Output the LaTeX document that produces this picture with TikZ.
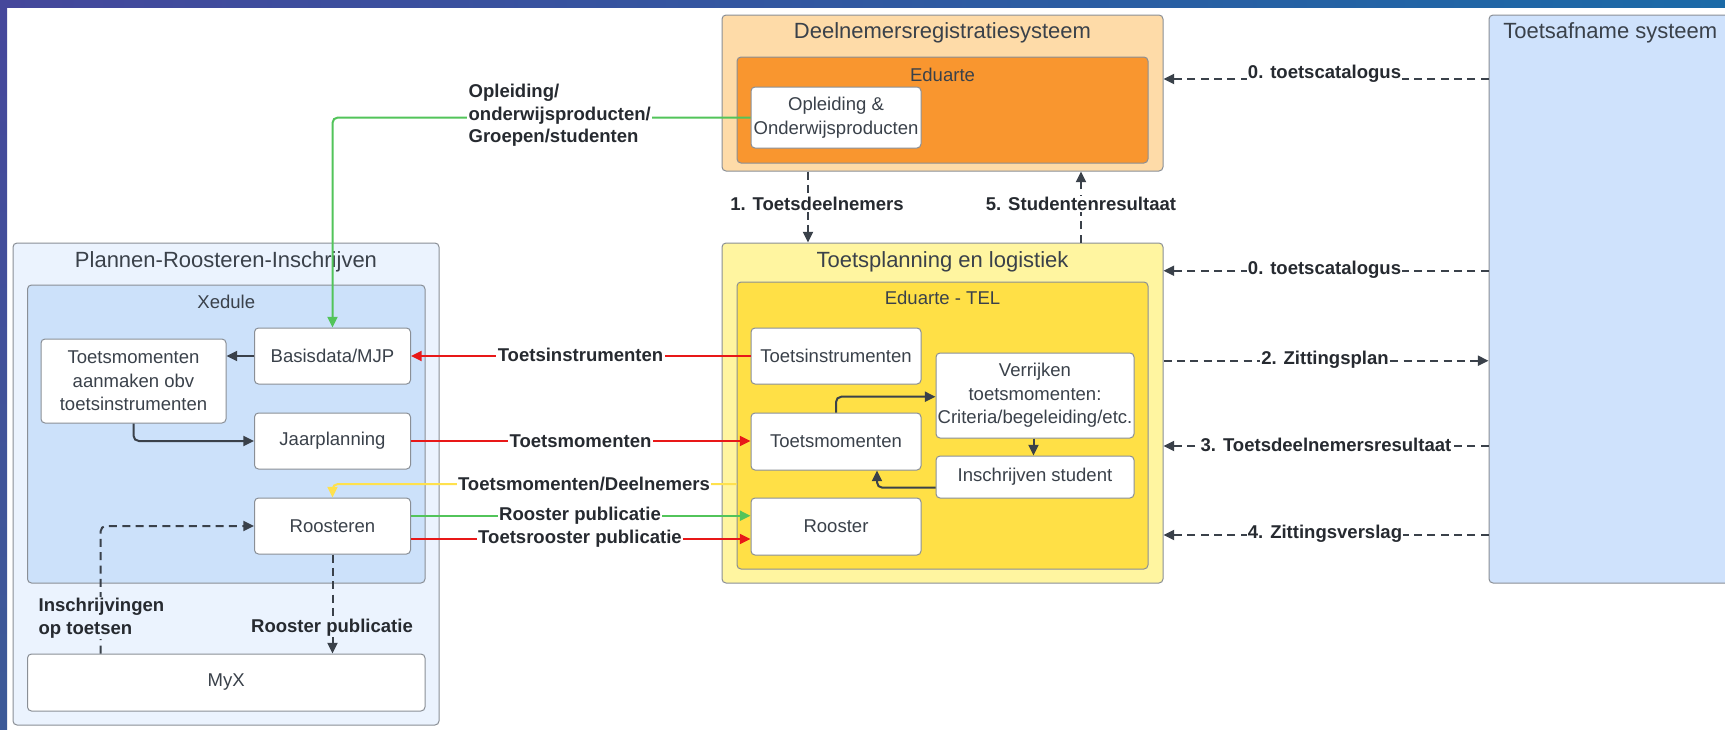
\documentclass[tikz,border=0pt]{standalone}
\usepackage{fontspec}
\setmainfont{Liberation Sans}
\usetikzlibrary{arrows.meta}
\definecolor{txt}{HTML}{3A414A}
\definecolor{lbltxt}{HTML}{262A30}
\definecolor{dark}{HTML}{3A414A}
\definecolor{bord}{HTML}{8A8F96}
\definecolor{drfill}{HTML}{FEDBA8}
\definecolor{edufill}{HTML}{F9962F}
\definecolor{tplfill}{HTML}{FFF5A0}
\definecolor{telfill}{HTML}{FFE046}
\definecolor{prifill}{HTML}{EBF3FE}
\definecolor{xedfill}{HTML}{CCE1FA}
\definecolor{tasfill}{HTML}{CFE2FC}
\definecolor{grn}{HTML}{52C45A}
\definecolor{redl}{HTML}{E81818}
\definecolor{yel}{HTML}{FFE14D}
\definecolor{bandA}{HTML}{45479B}
\definecolor{bandB}{HTML}{1B6AA7}
\definecolor{bandC}{HTML}{3C5A98}
\newcommand{\ttlfont}{\fontsize{16.5}{19}\selectfont}
\newcommand{\boxfont}{\fontsize{13.9}{17.6}\selectfont}
\newcommand{\lblfont}{\fontsize{13.9}{17}\selectfont\bfseries}
\begin{document}
\begin{tikzpicture}[x=0.75pt,y=-0.75pt,
  sz/.style 2 args={minimum width=#1*0.75pt, minimum height=#2*0.75pt},
  cont/.style={draw=bord, line width=0.75pt, rounded corners=3pt, inner sep=0pt},
  bx/.style={draw=bord, line width=0.75pt, rounded corners=3pt, fill=white, inner sep=0pt, align=center, text=txt, font=\boxfont},
  ttl/.style={text=txt, font=\ttlfont, inner sep=0pt},
  sub/.style={text=txt, font=\boxfont, inner sep=0pt},
  lbl/.style={text=lbltxt, font=\lblfont, inner sep=1pt, fill=white, align=center},
  con/.style={line width=1.5pt, -{Triangle[length=8pt,width=7.5pt]}},
  dk/.style={con, draw=dark, rounded corners=4pt},
  dsh/.style={con, draw=dark, dash pattern=on 6pt off 4pt},
  gr/.style={con, draw=grn, rounded corners=4pt},
  rd/.style={con, draw=redl},
  yl/.style={con, draw=yel, rounded corners=4pt},
]
\useasboundingbox (0,0) rectangle (1725,729);
\fill[white] (0,0) rectangle (1725,729);

% containers and boxes
\node[cont, fill=drfill, sz={441}{156}] (dr) at (942.5,93) {};
\node[ttl] (drt) at (942.5,33) {Deelnemersregistratiesysteem};
\node[cont, fill=edufill, sz={411}{106}] (edu) at (942.5,110) {};
\node[sub] (edut) at (942.5,75) {Eduarte};
\node[bx, sz={170}{61}] (opl) at (836,117.5) {Opleiding \&\\Onderwijsproducten};

\node[cont, fill=tplfill, sz={441}{340}] (tpl) at (942.5,413) {};
\node[ttl] (tplt) at (942.5,262) {Toetsplanning en logistiek};
\node[cont, fill=telfill, sz={411}{287}] (tel) at (942.5,425.5) {};
\node[sub] (telt) at (942.5,298) {Eduarte - TEL};
\node[bx, sz={170}{56}] (ti) at (836,356) {Toetsinstrumenten};
\node[bx, sz={198}{85}] (vt) at (1035,395.5) {Verrijken\\toetsmomenten:\\Criteria/begeleiding/etc.};
\node[bx, sz={170}{57}] (tm) at (836,441.5) {Toetsmomenten};
\node[bx, sz={198}{42}] (is) at (1035,477) {Inschrijven student};
\node[bx, sz={170}{57}] (ro) at (836,526.5) {Rooster};

\node[cont, fill=prifill, sz={426}{482}] (pri) at (226,484) {};
\node[ttl] (prit) at (226,262) {Plannen-Roosteren-Inschrijven};
\node[cont, fill=xedfill, sz={397.5}{298}] (xed) at (226.25,434) {};
\node[sub] (xedt) at (226.25,302) {Xedule};
\node[bx, sz={156}{56}] (bd) at (332.5,356) {Basisdata/MJP};
\node[bx, sz={185}{84}] (tma) at (133.5,381) {Toetsmomenten\\aanmaken obv\\toetsinstrumenten};
\node[bx, sz={156}{56}] (jp) at (332.5,441) {Jaarplanning};
\node[bx, sz={156}{56}] (roo) at (332.5,526) {Roosteren};
\node[bx, sz={397.5}{57}] (myx) at (226.25,682.5) {MyX};

\node[cont, fill=tasfill, sz={246}{568}] (tas) at (1612,299) {};
\node[ttl, anchor=west] (tast) at (1503,33) {Toetsafname systeem};

% frame bands
\shade[left color=bandA, right color=bandB] (0,0) rectangle (1725,7);
\shade[top color=bandA, bottom color=bandC] (0,0) rectangle (7,729);

% connectors
\draw[gr] (opl.west) -| (bd.north);
\draw[rd] (ti.west) -- (bd.east);
\draw[rd] (jp.east) -- (jp.east -| tm.west);
\draw[yl] (tel.west |- 0,484) -| (roo.north);
\draw[gr] (roo.east |- 0,515.7) -- (ro.west |- 0,515.7);
\draw[rd] (roo.east |- 0,539) -- (ro.west |- 0,539);
\draw[dk] (bd.west) -- (tma.east |- bd.west);
\draw[dk] (tma.south) |- (jp.west);
\draw[dsh, rounded corners=4pt] (myx.north -| 100.6,0) |- (roo.west);
\draw[dsh] (roo.south) -- (myx.north -| roo.south);
\draw[dsh] (dr.south -| 808,0) -- (tpl.north -| 808,0);
\draw[dsh] (tpl.north -| 1081,0) -- (dr.south -| 1081,0);
\draw[dsh] (tas.west |- 0,79) -- (dr.east |- 0,79);
\draw[dsh] (tas.west |- 0,270.7) -- (tpl.east |- 0,270.7);
\draw[dsh] (tpl.east |- 0,360.7) -- (tas.west |- 0,360.7);
\draw[dsh] (tas.west |- 0,446) -- (tpl.east |- 0,446);
\draw[dsh] (tas.west |- 0,535) -- (tpl.east |- 0,535);
\draw[dk] (tm.north) |- (vt.west |- 0,396.7);
\draw[dk] (vt.south -| 1033.5,0) -- (is.north -| 1033.5,0);
\draw[dk] (is.west |- 0,487.7) -| (tm.south -| 877,0);

% labels
\node[lbl, align=left, anchor=west] (l1) at (467,115.3) {Opleiding/\\onderwijsproducten/\\Groepen/studenten};
\node[lbl] (l2) at (580.5,355) {Toetsinstrumenten};
\node[lbl] (l3) at (580.5,441) {Toetsmomenten};
\node[lbl] (l4) at (584,484) {Toetsmomenten/Deelnemers};
\node[lbl] (l5) at (580,515.7) {Rooster publicatie};
\node[lbl] (l6) at (580,539) {Toetsrooster publicatie};
\node[lbl, fill=prifill, align=left, anchor=west] (l7) at (37,618) {Inschrijvingen\\op toetsen};
\node[lbl, fill=prifill] (l8) at (332,627.5) {Rooster publicatie};
\node[lbl] (l9) at (817,204) {1. Toetsdeelnemers};
\node[lbl] (l10) at (1081,204) {5. Studentenresultaat};
\node[lbl] (l11) at (1324.5,73.5) {0. toetscatalogus};
\node[lbl] (l12) at (1324.5,269.5) {0. toetscatalogus};
\node[lbl] (l13) at (1325,359.5) {2. Zittingsplan};
\node[lbl] (l14) at (1326,445) {3. Toetsdeelnemersresultaat};
\node[lbl] (l15) at (1325,534) {4. Zittingsverslag};
\end{tikzpicture}
\end{document}
